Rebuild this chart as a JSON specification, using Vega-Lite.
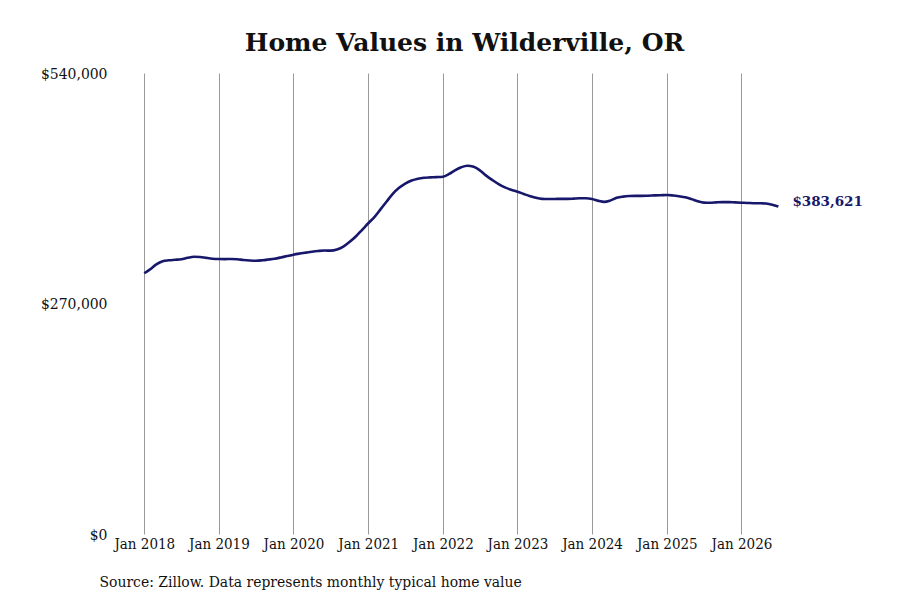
{
  "$schema": "https://vega.github.io/schema/vega-lite/v6.json",
  "autosize": "none",
  "width": 703,
  "height": 461,
  "padding": {"left": 113, "top": 73, "right": 84, "bottom": 66},
  "background": "white",
  "config": {
    "view": {"stroke": null},
    "axis": {"labelFont": "DejaVu Serif Condensed", "titleFont": "DejaVu Serif Condensed", "labelColor": "#111", "titleColor": "#111"},
    "title": {"font": "DejaVu Serif", "color": "#111"}
  },
  "title": {"text": "Home Values in Wilderville, OR", "fontSize": 25, "fontWeight": "bold", "anchor": "middle", "offset": 10},
  "data": {
    "values": [
      {"date": "2018-01-01", "value": 305400}, {"date": "2018-02-01", "value": 310500}, {"date": "2018-03-01", "value": 315800},
      {"date": "2018-04-01", "value": 319500}, {"date": "2018-05-01", "value": 320600}, {"date": "2018-06-01", "value": 321200},
      {"date": "2018-07-01", "value": 321800}, {"date": "2018-08-01", "value": 323500}, {"date": "2018-09-01", "value": 324800},
      {"date": "2018-10-01", "value": 324500}, {"date": "2018-11-01", "value": 323400}, {"date": "2018-12-01", "value": 322500},
      {"date": "2019-01-01", "value": 322100}, {"date": "2019-02-01", "value": 322000}, {"date": "2019-03-01", "value": 322100},
      {"date": "2019-04-01", "value": 321800}, {"date": "2019-05-01", "value": 321000}, {"date": "2019-06-01", "value": 320400},
      {"date": "2019-07-01", "value": 320100}, {"date": "2019-08-01", "value": 320600}, {"date": "2019-09-01", "value": 321500},
      {"date": "2019-10-01", "value": 322500}, {"date": "2019-11-01", "value": 324000}, {"date": "2019-12-01", "value": 325600},
      {"date": "2020-01-01", "value": 327200}, {"date": "2020-02-01", "value": 328500}, {"date": "2020-03-01", "value": 329600},
      {"date": "2020-04-01", "value": 330700}, {"date": "2020-05-01", "value": 331500}, {"date": "2020-06-01", "value": 332000},
      {"date": "2020-07-01", "value": 331900}, {"date": "2020-08-01", "value": 333200}, {"date": "2020-09-01", "value": 336500},
      {"date": "2020-10-01", "value": 342000}, {"date": "2020-11-01", "value": 348500}, {"date": "2020-12-01", "value": 356000},
      {"date": "2021-01-01", "value": 364000}, {"date": "2021-02-01", "value": 371500}, {"date": "2021-03-01", "value": 380000},
      {"date": "2021-04-01", "value": 389500}, {"date": "2021-05-01", "value": 398500}, {"date": "2021-06-01", "value": 405500},
      {"date": "2021-07-01", "value": 410500}, {"date": "2021-08-01", "value": 414000}, {"date": "2021-09-01", "value": 416200},
      {"date": "2021-10-01", "value": 417300}, {"date": "2021-11-01", "value": 417700}, {"date": "2021-12-01", "value": 418000},
      {"date": "2022-01-01", "value": 418500}, {"date": "2022-02-01", "value": 421800}, {"date": "2022-03-01", "value": 426000},
      {"date": "2022-04-01", "value": 429600}, {"date": "2022-05-01", "value": 431400}, {"date": "2022-06-01", "value": 430200},
      {"date": "2022-07-01", "value": 426000}, {"date": "2022-08-01", "value": 419800}, {"date": "2022-09-01", "value": 414500},
      {"date": "2022-10-01", "value": 409800}, {"date": "2022-11-01", "value": 406000}, {"date": "2022-12-01", "value": 403200},
      {"date": "2023-01-01", "value": 401000}, {"date": "2023-02-01", "value": 398300}, {"date": "2023-03-01", "value": 395900},
      {"date": "2023-04-01", "value": 393800}, {"date": "2023-05-01", "value": 392600}, {"date": "2023-06-01", "value": 392400},
      {"date": "2023-07-01", "value": 392400}, {"date": "2023-08-01", "value": 392600}, {"date": "2023-09-01", "value": 392600},
      {"date": "2023-10-01", "value": 392800}, {"date": "2023-11-01", "value": 393200}, {"date": "2023-12-01", "value": 393200},
      {"date": "2024-01-01", "value": 392400}, {"date": "2024-02-01", "value": 390200}, {"date": "2024-03-01", "value": 389000},
      {"date": "2024-04-01", "value": 390800}, {"date": "2024-05-01", "value": 393800}, {"date": "2024-06-01", "value": 395200},
      {"date": "2024-07-01", "value": 395900}, {"date": "2024-08-01", "value": 396100}, {"date": "2024-09-01", "value": 396100},
      {"date": "2024-10-01", "value": 396300}, {"date": "2024-11-01", "value": 396600}, {"date": "2024-12-01", "value": 396800},
      {"date": "2025-01-01", "value": 397100}, {"date": "2025-02-01", "value": 396500}, {"date": "2025-03-01", "value": 395600},
      {"date": "2025-04-01", "value": 394400}, {"date": "2025-05-01", "value": 392300}, {"date": "2025-06-01", "value": 389800},
      {"date": "2025-07-01", "value": 388200}, {"date": "2025-08-01", "value": 388000}, {"date": "2025-09-01", "value": 388500},
      {"date": "2025-10-01", "value": 388800}, {"date": "2025-11-01", "value": 388700}, {"date": "2025-12-01", "value": 388400},
      {"date": "2026-01-01", "value": 388100}, {"date": "2026-02-01", "value": 387800}, {"date": "2026-03-01", "value": 387500},
      {"date": "2026-04-01", "value": 387400}, {"date": "2026-05-01", "value": 387100}, {"date": "2026-06-01", "value": 385800},
      {"date": "2026-07-01", "value": 383621}
    ]
  },
  "encoding": {
    "x": {
      "field": "date",
      "type": "temporal",
      "scale": {"domain": [{"year": 2017, "month": 8, "date": 1}, {"year": 2027, "month": 1, "date": 1}]},
      "axis": {
        "values": [
          {"year": 2018, "month": 1, "date": 1}, {"year": 2019, "month": 1, "date": 1}, {"year": 2020, "month": 1, "date": 1},
          {"year": 2021, "month": 1, "date": 1}, {"year": 2022, "month": 1, "date": 1}, {"year": 2023, "month": 1, "date": 1},
          {"year": 2024, "month": 1, "date": 1}, {"year": 2025, "month": 1, "date": 1}, {"year": 2026, "month": 1, "date": 1}
        ],
        "format": "%b %Y",
        "grid": true,
        "gridColor": "#999999",
        "gridWidth": 1,
        "domain": false,
        "ticks": false,
        "labelFontSize": 15,
        "labelPadding": 2,
        "title": "Source: Zillow. Data represents monthly typical home value",
        "titleFontSize": 15.5,
        "titleFontWeight": "normal",
        "titleAlign": "left",
        "titleBaseline": "middle",
        "titleX": -14,
        "titleY": 47
      }
    },
    "y": {
      "field": "value",
      "type": "quantitative",
      "scale": {"domain": [0, 540000]},
      "axis": {
        "values": [0, 270000, 540000],
        "format": "$,.0f",
        "grid": false,
        "domain": false,
        "ticks": false,
        "labelFontSize": 15.5,
        "labelPadding": 6,
        "title": null
      }
    }
  },
  "layer": [
    {
      "mark": {"type": "line", "interpolate": "monotone", "color": "#17176b", "strokeWidth": 2.6}
    },
    {
      "transform": [{"filter": "datum.value == 383621"}],
      "mark": {"type": "text", "align": "left", "baseline": "middle", "dx": 14, "dy": -5, "font": "DejaVu Serif", "fontWeight": "bold", "fontSize": 13.5, "color": "#17176b"},
      "encoding": {"text": {"field": "value", "type": "quantitative", "format": "$,.0f"}}
    }
  ]
}
